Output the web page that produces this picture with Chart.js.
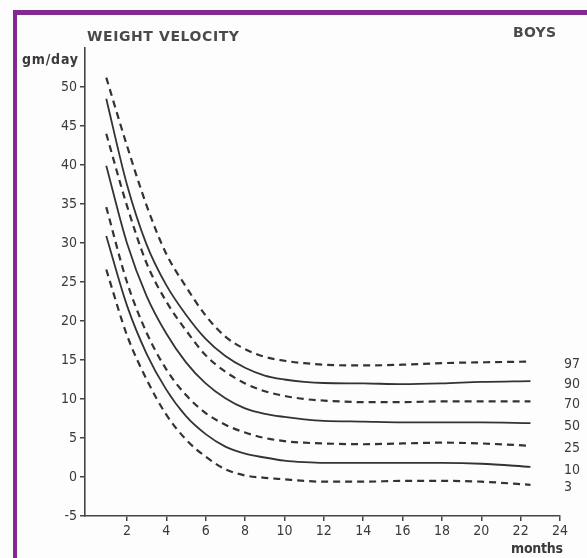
<!DOCTYPE html>
<html><head><meta charset="utf-8">
<script src="https://cdn.jsdelivr.net/npm/chart.js@4.4.1/dist/chart.umd.min.js"></script>
<style>
html,body{margin:0;padding:0;background:#fff;}
#wrap{position:relative;width:587px;height:558px;overflow:hidden;background:#fdfdfd;}
#frame{position:absolute;left:13px;top:10px;width:620px;height:620px;border-top:5px solid #832a91;border-left:4px solid #832a91;box-sizing:border-box;}
canvas{position:absolute;left:0;top:0;}
</style></head><body>
<div id="wrap"><div id="frame"></div><canvas id="c" width="587" height="558"></canvas></div>
<script>
// ---- data ----
const months = [0.95, 2, 3, 4, 5, 6, 7, 8, 9, 10, 11, 12, 14, 16, 18, 20, 22.5];
const p97 = [51.2, 42.5, 34.8, 28.6, 24.4, 20.7, 18.0, 16.4, 15.4, 14.9, 14.6, 14.4, 14.3, 14.4, 14.6, 14.7, 14.8];
const p90 = [48.5, 37.5, 29.8, 24.6, 20.8, 17.7, 15.5, 14.0, 13.0, 12.5, 12.2, 12.05, 12.0, 11.9, 12.0, 12.2, 12.3];
const p70 = [44.0, 34.8, 27.4, 22.5, 18.8, 15.6, 13.5, 12.0, 11.0, 10.4, 10.0, 9.8, 9.6, 9.6, 9.7, 9.7, 9.7];
const p50 = [39.9, 30.0, 23.2, 18.4, 14.7, 12.0, 10.1, 8.8, 8.1, 7.7, 7.4, 7.2, 7.1, 7.0, 7.0, 7.0, 6.9];
const p25 = [34.6, 25.0, 18.5, 13.8, 10.5, 8.2, 6.7, 5.7, 5.0, 4.6, 4.4, 4.3, 4.2, 4.3, 4.4, 4.3, 4.0];
const p10 = [30.9, 22.0, 15.8, 11.2, 7.8, 5.5, 3.9, 3.0, 2.5, 2.1, 1.9, 1.8, 1.8, 1.8, 1.8, 1.7, 1.3];
const p3  = [26.6, 18.2, 12.5, 8.0, 4.8, 2.6, 1.0, 0.2, -0.1, -0.3, -0.5, -0.6, -0.6, -0.5, -0.5, -0.6, -1.0];
const seriesLabels = ['97', '90', '70', '50', '25', '10', '3'];
const seriesValues = [p97, p90, p70, p50, p25, p10, p3];
const seriesDashed = [true, false, true, false, true, false, true];
const xTicks = [2, 4, 6, 8, 10, 12, 14, 16, 18, 20, 22, 24];
const yTicks = [-5, 0, 5, 10, 15, 20, 25, 30, 35, 40, 45, 50];

const INK = '#3a3a3a';
const FONT = '"DejaVu Sans Condensed", "DejaVu Sans", sans-serif';

function fitText(ctx, text, x, y, width) {
  ctx.letterSpacing = '0px';
  const w = ctx.measureText(text).width;
  const sp = Math.max(-1, Math.min(3, (width - w) / Math.max(1, text.length - 1)));
  ctx.letterSpacing = sp + 'px';
  ctx.fillText(text, x, y);
  ctx.letterSpacing = '0px';
}

const textPlugin = {
  id: 'texts',
  afterDraw(chart) {
    const ctx = chart.ctx;
    ctx.save();
    ctx.textAlign = 'left';
    ctx.textBaseline = 'alphabetic';
    ctx.fillStyle = '#4a4a4a';
    ctx.font = 'bold 14px "DejaVu Sans", sans-serif';
    fitText(ctx, 'WEIGHT VELOCITY', 87, 41, 152);
    fitText(ctx, 'BOYS', 513, 37, 43);
    ctx.fillStyle = INK;
    ctx.font = 'bold 14px ' + FONT;
    fitText(ctx, 'gm/day', 22, 64, 56);
    fitText(ctx, 'months', 511, 553, 52);
    // percentile labels at line ends
    ctx.font = '14px ' + FONT;
    ctx.textBaseline = 'middle';
    chart.data.datasets.forEach((ds, i) => {
      const meta = chart.getDatasetMeta(i);
      const pt = meta.data[meta.data.length - 1];
      ctx.fillText(seriesLabels[i], 564, pt.y + 3);
    });
    ctx.restore();
  }
};

const datasets = seriesValues.map((vals, i) => ({
  label: seriesLabels[i],
  data: vals.map((v, j) => ({ x: months[j], y: v })),
  borderColor: '#333',
  borderWidth: seriesDashed[i] ? 2.2 : 1.8,
  borderDash: seriesDashed[i] ? [7, 5] : [],
  pointRadius: 0,
  fill: false,
  cubicInterpolationMode: 'monotone'
}));

new Chart(document.getElementById('c'), {
  type: 'line',
  data: { datasets },
  options: {
    responsive: false,
    animation: false,
    devicePixelRatio: 1,
    layout: { padding: { left: 0, right: 27, top: 48, bottom: 0 } },
    plugins: { legend: { display: false }, tooltip: { enabled: false } },
    scales: {
      x: {
        type: 'linear', min: -0.13, max: 24,
        afterBuildTicks: s => { s.ticks = xTicks.map(v => ({ value: v })); },
        afterFit: s => { s.height = 42; },
        ticks: { color: INK, font: { family: FONT, size: 14 }, padding: 2, maxRotation: 0, autoSkip: false },
        grid: { display: true, drawOnChartArea: false, drawTicks: true, tickLength: 5, color: '#444', lineWidth: 1.5 },
        border: { display: true, color: '#444', width: 1.6 }
      },
      y: {
        type: 'linear', min: -5, max: 55,
        afterBuildTicks: s => { s.ticks = yTicks.map(v => ({ value: v })); },
        afterFit: s => { s.width = 85; },
        ticks: { color: INK, font: { family: FONT, size: 14 }, padding: 3, autoSkip: false },
        grid: { display: true, drawOnChartArea: false, drawTicks: true, tickLength: 5, color: '#444', lineWidth: 1.5 },
        border: { display: true, color: '#444', width: 1.6 }
      }
    }
  },
  plugins: [textPlugin]
});
</script>
</body></html>
